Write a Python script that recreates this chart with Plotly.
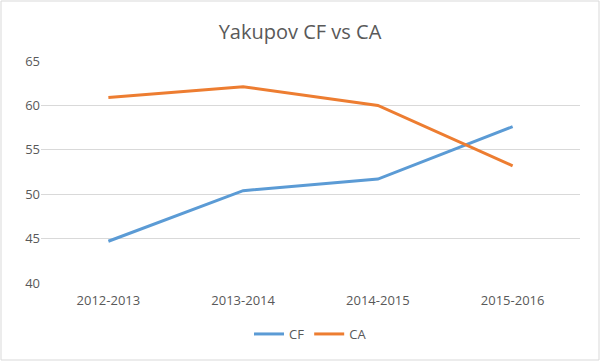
import plotly.graph_objects as go

seasons = ["2012-2013", "2013-2014", "2014-2015", "2015-2016"]
cf = [44.7, 50.4, 51.7, 57.6]
ca = [60.9, 62.1, 60.0, 53.2]
y_ticks = [40, 45, 50, 55, 60, 65]

W, H = 600, 361
ml, mr, mt, mb = 41, 20, 61, 78
pw, ph = W - ml - mr, H - mt - mb

fig = go.Figure()
fig.add_trace(go.Scatter(x=seasons, y=cf, name="CF", mode="lines",
                         line=dict(color="#5B9BD5", width=3)))
fig.add_trace(go.Scatter(x=seasons, y=ca, name="CA", mode="lines",
                         line=dict(color="#ED7D31", width=3)))

fig.update_layout(
    width=W, height=H,
    margin=dict(l=ml, r=mr, t=mt, b=mb),
    paper_bgcolor="white", plot_bgcolor="white",
    font=dict(family="Open Sans, Liberation Sans, sans-serif", color="#595959", size=12),
    title=dict(text="Yakupov CF vs CA", x=0.5, xanchor="center", y=1 - 32 / H, yanchor="middle",
               font=dict(size=20, color="#595959")),
    showlegend=True,
    legend=dict(orientation="h", x=0.5, xanchor="center", y=-(334 - 283) / ph, yanchor="middle",
                font=dict(size=13, color="#595959"), itemwidth=30, tracegroupgap=0),
    xaxis=dict(type="category", range=[-0.5, 3.5], showgrid=False, showline=False,
               zeroline=False, ticks="", ticklabelstandoff=8,
               tickfont=dict(size=13, color="#595959")),
    yaxis=dict(range=[40, 65], tickvals=y_ticks, showgrid=True, gridcolor="#D9D9D9",
               gridwidth=1, zeroline=False, showline=False, ticks="",
               tickfont=dict(size=13, color="#595959")),
)

# outer chart border
fig.add_shape(type="rect", xref="paper", yref="paper",
              x0=-(ml - 1) / pw, x1=1 + (mr - 1) / pw,
              y0=-(mb - 1) / ph, y1=1 + (mt - 1) / ph,
              line=dict(color="#D9D9D9", width=1), fillcolor="rgba(0,0,0,0)", layer="below")

fig.write_html("out.html", config={"displayModeBar": False},
               post_script="document.body.style.margin='0';")
